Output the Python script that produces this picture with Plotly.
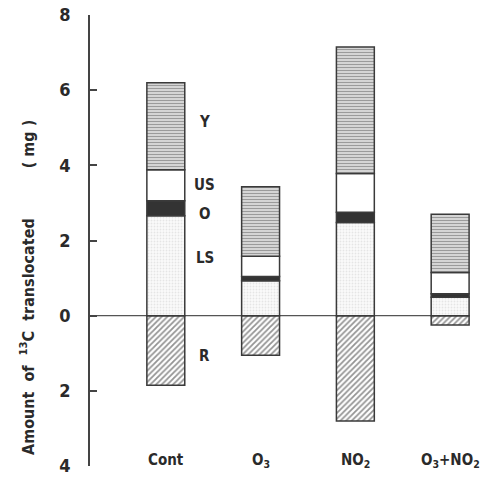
import plotly.graph_objects as go

categories = ["Cont", "O3", "NO2", "O3+NO2"]
cat_labels = ["Cont", "O<sub>3</sub>", "NO<sub>2</sub>", "O<sub>3</sub>+NO<sub>2</sub>"]
LS = [2.66, 0.93, 2.48, 0.49]
O = [0.40, 0.11, 0.27, 0.09]
US = [0.82, 0.54, 1.03, 0.57]
Y = [2.32, 1.85, 3.37, 1.55]
R = [-1.85, -1.05, -2.80, -0.25]

tick_vals = [-4, -2, 0, 2, 4, 6, 8]
tick_text = ["4", "2", "0", "2", "4", "6", "8"]

FONT = "DejaVu Sans Condensed, Liberation Sans Narrow, Arial Narrow, Liberation Sans, sans-serif"
ink = "#2a2a2a"
line = dict(color="#3a3a3a", width=1.5)
W = 0.4

fig = go.Figure()
fig.add_bar(x=categories, y=R, width=W, name="R", marker=dict(color="white", line=line,
            pattern=dict(shape="/", fgcolor="#2a2a2a", bgcolor="white", size=4, solidity=0.45)))
fig.add_bar(x=categories, y=LS, width=W, name="LS", marker=dict(color="white", line=line,
            pattern=dict(shape=".", fgcolor="#cfcfcf", bgcolor="#fafafa", size=3, solidity=0.3)))
fig.add_bar(x=categories, y=O, width=W, name="O", marker=dict(color="#333333", line=line))
fig.add_bar(x=categories, y=US, width=W, name="US", marker=dict(color="white", line=line))
fig.add_bar(x=categories, y=Y, width=W, name="Y", marker=dict(color="white", line=line,
            pattern=dict(shape="-", fgcolor="#555555", bgcolor="#e0e0e0", size=3, solidity=0.45)))

fig.add_shape(type="line", xref="x", yref="y", x0=-0.8, x1=2.8, y0=0, y1=0,
              line=dict(color="#555", width=1.2), layer="below")

# segment labels beside the Cont bar
seg_names = ["Y", "US", "O", "LS", "R"]
seg_mid = [LS[0] + O[0] + US[0] + Y[0] / 2 + 0.1,
           LS[0] + O[0] + US[0] / 2,
           LS[0] + O[0] / 2 - 0.15,
           LS[0] / 2 + 0.2,
           R[0] / 2 - 0.15]
for n, yv in zip(seg_names, seg_mid):
    fig.add_annotation(x=0.41, y=yv, xref="x", yref="y", text="<b>%s</b>" % n, showarrow=False,
                       font=dict(family=FONT, size=15, color=ink))

for c, lab in zip(categories, cat_labels):
    fig.add_annotation(x=c, y=-3.85, xref="x", yref="y", text="<b>%s</b>" % lab, showarrow=False,
                       font=dict(family=FONT, size=15, color=ink))

fig.add_annotation(xref="paper", yref="paper", x=-0.155, y=0.395, xanchor="center", yanchor="middle",
                   text="<b>Amount  of  <sup>13</sup>C  translocated          ( mg )</b>", textangle=-90,
                   showarrow=False, font=dict(family=FONT, size=16, color=ink))

fig.update_layout(
    width=489, height=481, barmode="relative", showlegend=False,
    margin=dict(l=90, r=0, t=15, b=15),
    plot_bgcolor="white", paper_bgcolor="white",
    xaxis=dict(range=[-0.8, 3.41], showticklabels=False, showgrid=False, zeroline=False,
               showline=False, ticks=""),
    yaxis=dict(range=[-4, 8], tickvals=tick_vals, ticktext=["<b>%s</b>" % t for t in tick_text],
               showgrid=False, zeroline=False, showline=True, linecolor="#444", linewidth=1.5,
               ticks="inside", ticklen=7, tickcolor="#444", tickwidth=1.5,
               tickfont=dict(family=FONT, size=18, color=ink), ticklabelstandoff=14),
)
fig.write_html("out.html")
